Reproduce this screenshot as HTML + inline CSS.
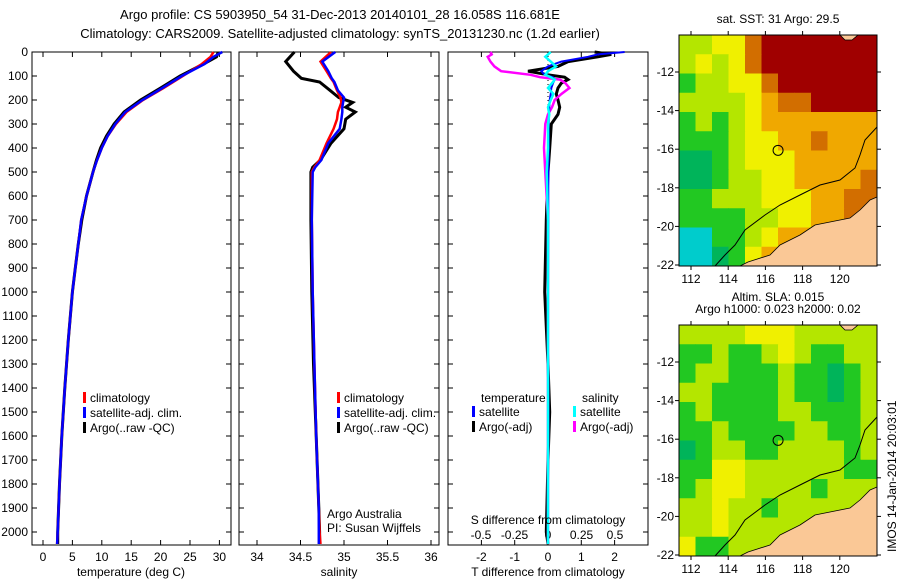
<!DOCTYPE html>
<html><head><meta charset="utf-8"><style>
body{margin:0;background:#fff;}
svg{display:block;font-family:"Liberation Sans",sans-serif;}
text{font-size:12px;fill:#000;}
</style></head><body>
<svg id="fig" width="900" height="580" viewBox="0 0 900 580">
<text x="340" y="19" text-anchor="middle" style="font-size:13px">Argo profile: CS 5903950_54 31-Dec-2013 20140101_28 16.058S 116.681E</text>
<text x="340" y="38" text-anchor="middle" style="font-size:13px">Climatology: CARS2009. Satellite-adjusted climatology: synTS_20131230.nc (1.2d earlier)</text>
<g id="g"></g>
</svg>
<script>
// ---------- data ----------
const depthT = [0,20,50,100,150,200,250,300,350,400,450,500,600,700,800,900,1000,1200,1400,1600,1800,2000,2050];
const tempClim = [29.0,28.5,27.0,23.8,20.5,17.0,14.2,12.4,11.0,10.0,9.2,8.5,7.4,6.5,6.0,5.5,5.0,4.3,3.7,3.2,2.8,2.5,2.4];
const tempSat  = [30.5,29.0,27.5,23.6,20.3,16.9,14.0,12.3,11.0,10.0,9.2,8.5,7.4,6.5,6.0,5.5,5.0,4.3,3.7,3.2,2.8,2.5,2.4];
const tempArgo = [29.8,29.5,27.3,23.3,20.0,16.6,13.8,12.1,10.8,9.8,9.1,8.5,7.4,6.6,6.0,5.5,5.0,4.3,3.7,3.2,2.8,2.5,2.5];
const depthS = [0,40,80,110,125,160,190,210,230,250,280,320,380,450,480,500,700,1000,1300,1600,1900,2000,2050];
const salClim = [34.85,34.73,34.80,34.85,34.88,34.92,34.96,34.97,34.95,34.93,34.92,34.88,34.80,34.72,34.66,34.63,34.63,34.64,34.66,34.68,34.71,34.72,34.73];
const salSat  = [34.90,34.75,34.82,34.86,34.89,34.93,35.00,34.99,34.98,34.98,34.97,34.95,34.82,34.74,34.67,34.64,34.63,34.64,34.66,34.68,34.71,34.71,34.71];
const salArgo = [34.43,34.33,34.42,34.51,34.72,34.84,34.94,35.10,35.02,35.13,35.02,35.00,34.85,34.73,34.64,34.62,34.62,34.63,34.65,34.68,34.71,34.72,34.72];
const depthD = [0,10,20,40,60,80,95,105,115,130,150,175,200,230,260,300,400,500,700,1000,1300,1500,1700,2000,2050];
const dTsat  = [2.3,1.5,1.2,0.4,0.0,-0.2,-0.1,0.15,0.2,0.15,0.1,0.08,0.05,0.04,0.03,0.02,0.02,0.01,0.01,0.0,0.0,0.01,0.0,0.0,0.0];
const dTargo = [1.4,1.9,1.5,0.6,0.3,-0.6,0.0,0.5,0.6,0.4,0.3,0.25,0.3,0.35,0.3,0.1,0.05,0.0,-0.05,-0.1,0.0,0.05,0.0,-0.05,0.0];
const dSargo = [-0.43,-0.42,-0.45,-0.43,-0.40,-0.35,-0.13,-0.06,0.09,0.13,0.16,0.10,0.05,0.03,0.0,-0.02,-0.03,-0.02,0.0,0.0,0.0,0.0,0.0,0.0,0.0];
const dSsat  = [0.02,0.0,-0.02,0.02,0.06,0.0,-0.02,0.02,0.05,0.03,0.0,0.04,0.02,0.0,0.01,0.0,0.0,-0.01,0.0,0.0,0.0,0.0,0.0,0.0,0.0];
const depthTicks = [0,100,200,300,400,500,600,700,800,900,1000,1100,1200,1300,1400,1500,1600,1700,1800,1900,2000];
const tempTicks = [0,5,10,15,20,25,30];
const salTicks = [34,34.5,35,35.5,36];
const dTTicks = [-2,-1,0,1,2];
const dSTicks = [-0.5,-0.25,0,0.25,0.5];
const latTicks = [-12,-14,-16,-18,-20,-22];
const lonTicks = [112,114,116,118,120];
const sstGrid = [
[3,3,4,4,6,7,7,7,7,7,7,7],
[3,4,3,4,6,7,7,7,7,7,7,7],
[2,3,3,4,4,6,7,7,7,7,7,7],
[3,3,3,3,4,5,6,6,7,7,7,7],
[2,3,2,3,4,5,5,5,5,5,5,5],
[2,2,2,3,4,4,5,5,6,5,5,5],
[1,1,2,3,4,4,4,5,5,5,5,5],
[1,1,2,3,3,4,4,5,5,5,5,6],
[2,2,3,3,3,4,4,4,5,5,6,6],
[2,2,2,2,3,3,4,4,5,5,6,6],
[0,0,2,2,3,4,5,5,5,6,6,6],
[0,0,1,2,4,5,5,5,5,5,5,5]];
const slaGrid = [
[3,3,3,3,4,4,4,3,3,3,3,3],
[2,2,3,2,2,3,4,3,2,2,3,3],
[2,3,3,2,2,2,3,2,2,1,2,3],
[3,3,2,2,2,2,3,2,2,1,2,3],
[2,3,2,2,2,2,3,3,2,2,2,3],
[2,2,3,2,2,2,2,3,3,2,2,3],
[1,2,3,3,2,2,3,3,3,3,2,3],
[2,2,4,4,3,3,3,3,3,3,2,2],
[2,3,4,4,3,3,3,3,2,3,3,3],
[3,3,4,3,3,2,3,3,3,3,3,3],
[3,3,4,3,3,3,3,3,3,3,3,3],
[4,2,2,3,3,3,3,3,3,3,3,3]];
const palette = ["#00cccc","#00b45a","#22c822","#b4e600","#f0f000","#f0a800","#d26e00","#a00000"];

// ---------- helpers ----------
const NS="http://www.w3.org/2000/svg";
const G=document.getElementById('g');
function mk(tag,attrs,parent){const e=document.createElementNS(NS,tag);for(const k in attrs)e.setAttribute(k,attrs[k]);(parent||G).appendChild(e);return e;}
const yD = d => 52 + d*0.24;
const PT=52, PB=545;
function panel(x0,x1,name){
  const r=mk('rect',{x:x0,y:PT,width:x1-x0,height:PB-PT,fill:'none',stroke:'#000','stroke-width':1});
  
  
  depthTicks.forEach(d=>{
    mk('line',{x1:x0,x2:x0+5,y1:yD(d),y2:yD(d),stroke:'#000'});
    mk('line',{x1:x1,x2:x1-5,y1:yD(d),y2:yD(d),stroke:'#000'});
  });
}
function xticks(vals,fx,x0,y,labels,name){
  vals.forEach(v=>{
    const x=fx(v);
    mk('line',{x1:x,x2:x,y1:PT,y2:PT+5,stroke:'#000'});
    mk('line',{x1:x,x2:x,y1:PB,y2:PB-5,stroke:'#000'});
    if(labels){const t=mk('text',{x:x,y:y,'text-anchor':'middle'});t.textContent=String(v);
      
      }
  });
}
function line(xs,ds,fx,color,w,name){
  const pts=xs.map((v,i)=>fx(v).toFixed(1)+','+yD(ds[i]).toFixed(1)).join(' ');
  const p=mk('polyline',{points:pts,fill:'none',stroke:color,'stroke-width':w,'stroke-linejoin':'miter'});
  
  
}
function legend(x,y,items,name){
  items.forEach((it,i)=>{
    mk('rect',{x:x,y:y+i*15-10,width:3,height:11,fill:it[1]});
    const t=mk('text',{x:x+7,y:y+i*15});t.textContent=it[0];
    
    
  });
}

// ---------- panel 1: temperature ----------
const fT = v => 43 + v*5.88;
panel(32,231,'temperature-panel');
depthTicks.forEach(d=>{const t=mk('text',{x:28,y:yD(d)+4,'text-anchor':'end'});t.textContent=d;
  
  });
xticks(tempTicks,fT,32,561,true,'temperature-tick-label');
line(tempArgo,depthT,fT,'#000',3,'temp-argo-line');
line(tempClim,depthT,fT,'#f00',2.5,'temp-climatology-line');
line(tempSat,depthT,fT,'#00f',2.5,'temp-satellite-line');
legend(83,402,[['climatology','#f00'],['satellite-adj. clim.','#00f'],['Argo(..raw -QC)','#000']],'temp-legend');
let t=mk('text',{x:131,y:576,'text-anchor':'middle'});t.textContent='temperature (deg C)';



// ---------- panel 2: salinity ----------
const fS = v => 257 + (v-34)*87;
panel(239,439,'salinity-panel');
xticks(salTicks,fS,239,561,true,'salinity-tick-label');
line(salArgo,depthS,fS,'#000',3,'sal-argo-line');
line(salClim,depthS,fS,'#f00',2.5,'sal-climatology-line');
line(salSat,depthS,fS,'#00f',2.5,'sal-satellite-line');
legend(337,402,[['climatology','#f00'],['satellite-adj. clim.','#00f'],['Argo(..raw -QC)','#000']],'sal-legend');
t=mk('text',{x:327,y:518});t.textContent='Argo Australia';


t=mk('text',{x:327,y:532});t.textContent='PI: Susan Wijffels';


t=mk('text',{x:339,y:576,'text-anchor':'middle'});t.textContent='salinity';



// ---------- panel 3: differences ----------
const fdT = v => 548 + v*33.3;
const fdS = v => 548 + v*134;
panel(448,648,'difference-panel');
xticks(dTTicks,fdT,448,561,true,'t-diff-tick-label');
dSTicks.forEach(v=>{const tt=mk('text',{x:fdS(v),y:539,'text-anchor':'middle'});tt.textContent=String(v);
  
  });
mk('line',{x1:548,x2:548,y1:PT,y2:PB,stroke:'#000','stroke-dasharray':'1,3'});
line(dTargo,depthD,fdT,'#000',3,'t-diff-argo-line');
line(dSargo,depthD,fdS,'#f0f',2.5,'s-diff-argo-line');
line(dTsat,depthD,fdT,'#00f',2,'t-diff-satellite-line');
line(dSsat,depthD,fdS,'#0ff',2.5,'s-diff-satellite-line');
t=mk('text',{x:481,y:402});t.textContent='temperature';


t=mk('text',{x:582,y:402});t.textContent='salinity';


legend(472,416,[['satellite','#00f'],['Argo(-adj)','#000']],'t-diff-legend');
legend(573,416,[['satellite','#0ff'],['Argo(-adj)','#f0f']],'s-diff-legend');
t=mk('text',{x:548,y:524,'text-anchor':'middle'});t.textContent='S difference from climatology';


t=mk('text',{x:548,y:576,'text-anchor':'middle'});t.textContent='T difference from climatology';



// ---------- maps ----------
function map(top,grid,name,title1,title2){
  const L=679,R=877,bot=top+231;
  const fy = lat => top + 37 + (-12-lat)*19.3;
  const fx = lon => 691 + (lon-112)*18.6;
  const rows=grid.length, cols=grid[0].length, cw=(R-L)/cols, ch=(bot-top)/rows;
  grid.forEach((row,i)=>row.forEach((v,j)=>{
    const c=mk('rect',{x:L+j*cw,y:top+i*ch,width:cw+0.5,height:ch+0.5,fill:palette[v]});
    
    
  }));
  // land
  const land=mk('polygon',{points:`${R},${top+162} 870,${top+165} 860,${top+175} 850,${top+183} 830,${top+187} 815,${top+190} 800,${top+200} 780,${top+210} 770,${top+220} 748,${top+227} 740,${bot} ${R},${bot}`,fill:'#fac896',stroke:'#000','stroke-width':0.8});
  
  
  mk('polygon',{points:`840,${top} 858,${top} 852,${top+5} 845,${top+5}`,fill:'#fac896',stroke:'#000','stroke-width':0.8});
  const cont=mk('polyline',{points:`${R},${top+92} 865,${top+105} 860,${top+120} 855,${top+133} 840,${top+145} 820,${top+150} 800,${top+160} 780,${top+170} 765,${top+180} 745,${top+195} 735,${top+210} 725,${top+220} 715,${bot}`,fill:'none',stroke:'#000','stroke-width':1});
  
  
  const fr=mk('rect',{x:L,y:top,width:R-L,height:bot-top,fill:'none',stroke:'#000'});
  
  
  latTicks.forEach(v=>{const y=fy(v);
    mk('line',{x1:L-4,x2:L,y1:y,y2:y,stroke:'#000'});mk('line',{x1:R,x2:R+4,y1:y,y2:y,stroke:'#000'});
    const tt=mk('text',{x:L-5,y:y+4,'text-anchor':'end'});tt.textContent=String(v);
    
    });
  lonTicks.forEach(v=>{const x=fx(v);
    mk('line',{x1:x,x2:x,y1:top-4,y2:top,stroke:'#000'});mk('line',{x1:x,x2:x,y1:bot,y2:bot+4,stroke:'#000'});
    const tt=mk('text',{x:x,y:bot+17,'text-anchor':'middle'});tt.textContent=String(v);
    
    });
  const m=mk('circle',{cx:fx(116.681),cy:fy(-16.058),r:5,fill:'none',stroke:'#000'});
  
  
  if(title1){const tt=mk('text',{x:778,y:top-12,'text-anchor':'middle'});tt.textContent=title1;
    
    }
  if(title2){const tt=mk('text',{x:778,y:top-24,'text-anchor':'middle'});tt.textContent=title2;
    
    }
}
map(35,sstGrid,'sst-map','sat. SST: 31  Argo: 29.5');
map(325,slaGrid,'sla-map','Argo h1000: 0.023 h2000: 0.02','Altim. SLA: 0.015');
t=mk('text',{x:0,y:0,transform:'translate(896,552) rotate(-90)'});t.textContent='IMOS 14-Jan-2014 20:03:01';


</script>
</body></html>
